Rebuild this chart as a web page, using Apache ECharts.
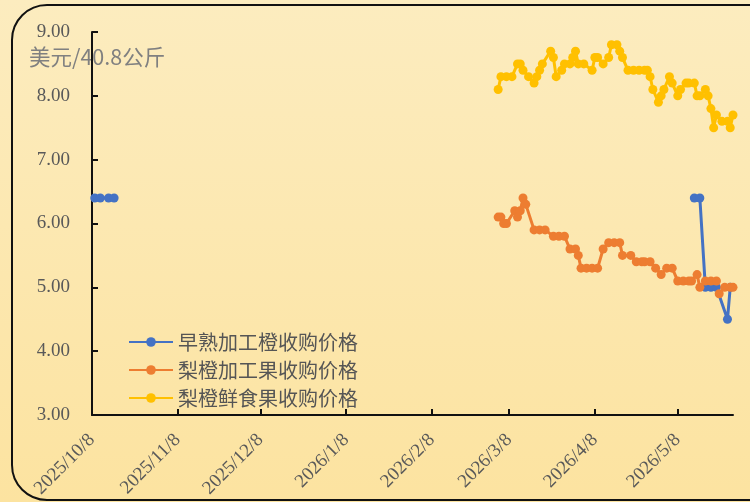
<!DOCTYPE html>
<html>
<head>
<meta charset="utf-8">
<script src="https://cdn.jsdelivr.net/npm/echarts@6/dist/echarts.min.js"></script>
<style>
  html, body { margin: 0; padding: 0; }
  #chart { width: 750px; height: 502px; }
</style>
</head>
<body>
<div id="chart"></div>
<script>
// 横轴范围与刻度（按月，每月8日）
const startDate = '2025/10/8';
const endDate = '2026/5/28';
const tickDates = ['2025/10/8', '2025/11/8', '2025/12/8', '2026/1/8', '2026/2/8', '2026/3/8', '2026/4/8', '2026/5/8'];

// 早熟加工橙收购价格（'-' 表示断开）
const earlyDates = ['2025/10/9', '2025/10/11', '2025/10/14', '2025/10/16', '2025/10/17',
  '2026/5/14', '2026/5/16', '2026/5/18', '2026/5/20', '2026/5/22', '2026/5/26', '2026/5/27'];
const earlyValues = [6.4, 6.4, 6.4, 6.4, '-', 6.4, 6.4, 5.0, 5.0, 5.0, 4.5, 5.0];

// 梨橙加工果收购价格
const procDates = ['2026/3/4', '2026/3/5', '2026/3/6', '2026/3/7', '2026/3/10', '2026/3/11', '2026/3/12', '2026/3/13',
  '2026/3/14', '2026/3/17', '2026/3/19', '2026/3/21', '2026/3/24', '2026/3/26', '2026/3/28', '2026/3/30',
  '2026/4/1', '2026/4/2', '2026/4/3', '2026/4/5', '2026/4/7', '2026/4/9', '2026/4/11', '2026/4/13',
  '2026/4/15', '2026/4/17', '2026/4/18', '2026/4/21', '2026/4/23', '2026/4/25', '2026/4/26', '2026/4/28',
  '2026/4/30', '2026/5/2', '2026/5/4', '2026/5/6', '2026/5/8', '2026/5/10', '2026/5/12', '2026/5/13',
  '2026/5/15', '2026/5/16', '2026/5/18', '2026/5/20', '2026/5/22', '2026/5/23', '2026/5/25', '2026/5/27', '2026/5/28'];
const procValues = [6.1, 6.1, 6.0, 6.0, 6.2, 6.1, 6.2, 6.4,
  6.3, 5.9, 5.9, 5.9, 5.8, 5.8, 5.8, 5.6,
  5.6, 5.5, 5.3, 5.3, 5.3, 5.3, 5.6, 5.7,
  5.7, 5.7, 5.5, 5.5, 5.4, 5.4, 5.4, 5.4,
  5.3, 5.2, 5.3, 5.3, 5.1, 5.1, 5.1, 5.1,
  5.2, 5.0, 5.1, 5.1, 5.1, 4.9, 5.0, 5.0, 5.0];

// 梨橙鲜食果收购价格
const freshDates = ['2026/3/4', '2026/3/5', '2026/3/7', '2026/3/9', '2026/3/11', '2026/3/12', '2026/3/13', '2026/3/15',
  '2026/3/17', '2026/3/18', '2026/3/19', '2026/3/20', '2026/3/23', '2026/3/24', '2026/3/25', '2026/3/27',
  '2026/3/28', '2026/3/30', '2026/3/31', '2026/4/1', '2026/4/2', '2026/4/4', '2026/4/7', '2026/4/8',
  '2026/4/9', '2026/4/11', '2026/4/13', '2026/4/14', '2026/4/16', '2026/4/17', '2026/4/18', '2026/4/20',
  '2026/4/22', '2026/4/24', '2026/4/26', '2026/4/27', '2026/4/28', '2026/4/29', '2026/5/1', '2026/5/2',
  '2026/5/3', '2026/5/5', '2026/5/6', '2026/5/8', '2026/5/9', '2026/5/11', '2026/5/12', '2026/5/14',
  '2026/5/15', '2026/5/16', '2026/5/18', '2026/5/19', '2026/5/20', '2026/5/21', '2026/5/22', '2026/5/24',
  '2026/5/26', '2026/5/27', '2026/5/28'];
const freshValues = [8.1, 8.3, 8.3, 8.3, 8.5, 8.5, 8.4, 8.3,
  8.2, 8.3, 8.4, 8.5, 8.7, 8.6, 8.3, 8.4,
  8.5, 8.5, 8.6, 8.7, 8.5, 8.5, 8.4, 8.6,
  8.6, 8.5, 8.6, 8.8, 8.8, 8.7, 8.6, 8.4,
  8.4, 8.4, 8.4, 8.4, 8.3, 8.1, 7.9, 8.0,
  8.1, 8.3, 8.2, 8.0, 8.1, 8.2, 8.2, 8.2,
  8.0, 8.0, 8.1, 8.0, 7.8, 7.5, 7.7, 7.6,
  7.6, 7.5, 7.7];

const seriesNames = ['早熟加工橙收购价格', '梨橙加工果收购价格', '梨橙鲜食果收购价格'];
const colors = ['#4472C4', '#ED7D31', '#FFC000'];

const toTime = (s) => {
  const [y, m, d] = s.split('/').map(Number);
  return Date.UTC(y, m - 1, d);
};
const fmtDate = (t) => {
  const dt = new Date(t);
  return dt.getUTCFullYear() + '/' + (dt.getUTCMonth() + 1) + '/' + dt.getUTCDate();
};
const pairs = (dates, values) => dates.map((d, i) => [toTime(d), values[i]]);

const serif = 'Liberation Serif';
const cjk = 'Noto Sans CJK SC';

const chart = echarts.init(document.getElementById('chart'));

const makeSeries = (name, color, data) => ({
  name,
  type: 'line',
  data,
  symbol: 'circle',
  symbolSize: 9,
  color,
  lineStyle: { width: 3, color },
  itemStyle: { color },
  connectNulls: false,
  animation: false
});

chart.setOption({
  animation: false,
  backgroundColor: new echarts.graphic.LinearGradient(0, 0, 0, 1, [
    { offset: 0, color: '#FCECBF' },
    { offset: 1, color: '#FCE3A0' }
  ]),
  grid: { left: 92, right: 17, top: 32, bottom: 87, containLabel: false },
  graphic: [
    {
      type: 'rect',
      z: -1,
      shape: { x: 12, y: 5, width: 790, height: 495, r: 35 },
      style: { fill: 'none', stroke: '#111', lineWidth: 2 }
    },
    {
      type: 'text',
      z: 0,
      left: 29,
      top: 46,
      style: { text: '美元/40.8公斤', fill: '#808080', font: '21.5px "Noto Sans CJK SC"' }
    }
  ],
  legend: {
    orient: 'vertical',
    left: 128,
    top: 332,
    padding: 0,
    itemWidth: 44,
    itemHeight: 12,
    itemGap: 8,
    data: seriesNames,
    textStyle: { fontSize: 20, lineHeight: 20, color: '#555', fontFamily: cjk }
  },
  xAxis: {
    type: 'value',
    min: toTime(startDate),
    max: toTime(endDate),
    splitLine: { show: false },
    axisLine: { show: true, lineStyle: { color: '#111', width: 2 } },
    axisTick: { show: true, inside: true, length: 6, customValues: tickDates.map(toTime), lineStyle: { color: '#111', width: 2 } },
    axisLabel: {
      customValues: tickDates.map(toTime),
      rotate: 45,
      margin: 22,
      fontSize: 19,
      fontFamily: serif,
      color: '#595959',
      formatter: (v) => fmtDate(v)
    }
  },
  yAxis: {
    type: 'value',
    min: 3,
    max: 9,
    interval: 1,
    splitLine: { show: false },
    axisLine: { show: true, lineStyle: { color: '#111', width: 2 } },
    axisTick: { show: true, inside: true, length: 6, lineStyle: { color: '#111', width: 2 } },
    axisLabel: {
      margin: 22,
      fontSize: 19,
      fontFamily: serif,
      color: '#595959',
      formatter: (v) => v.toFixed(2)
    }
  },
  series: [
    makeSeries(seriesNames[0], colors[0], pairs(earlyDates, earlyValues)),
    makeSeries(seriesNames[1], colors[1], pairs(procDates, procValues)),
    makeSeries(seriesNames[2], colors[2], pairs(freshDates, freshValues))
  ]
});

window.addEventListener('resize', () => chart.resize());
</script>
</body>
</html>
